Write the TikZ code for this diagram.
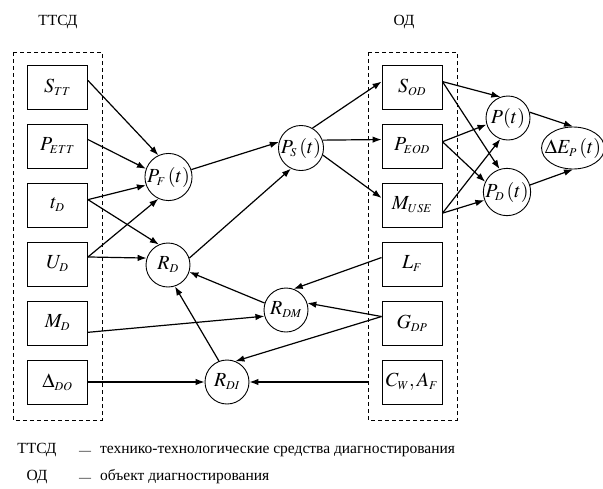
\documentclass[tikz,border=0pt]{standalone}
\usepackage{mathptmx}
\usepackage{fontspec}
\setmainfont{Liberation Serif}
\usetikzlibrary{arrows.meta,shapes.geometric}
\newcommand{\ix}[1]{_{\scriptscriptstyle #1}}

\begin{document}
\begin{tikzpicture}[x=1pt, y=-1pt,
    box/.style = {draw, rectangle, minimum width=60pt, minimum height=44pt, line width=0.9pt, font=\fontsize{20}{24}\selectfont},
    crc/.style = {draw, circle, minimum size=44pt, inner sep=0pt, line width=0.9pt, font=\fontsize{20}{24}\selectfont},
    frame/.style = {dashed, dash pattern=on 4pt off 3pt, line width=0.9pt},
    arr/.style = {-{Latex[length=9pt,width=6.5pt]}, line width=1.2pt},
    lbl/.style = {inner sep=0pt, font=\fontsize{15.5}{19}\selectfont}]
\useasboundingbox (0,0) rectangle (603,488);

\node[lbl, anchor=base] (ttsd) at (58,25) {ТТСД};
\node[lbl, anchor=base] (od) at (404,25) {ОД};

\draw[frame] (13,52) rectangle (102,420);
\draw[frame] (368,52) rectangle (457,420);

% ТТСД
\node[box] (stt) at (57.5,87.5) {$S\ix{TT}$};
\node[box] (pett) at (57.5,146) {$P\ix{ETT}$};
\node[box] (td) at (57.5,205) {$t\ix{D}$};
\node[box] (ud) at (57.5,264) {$U\ix{D}$};
\node[box] (md) at (57.5,323) {$M\ix{D}$};
\node[box] (ddo) at (57.5,382) {$\Delta\ix{DO}$};

% ОД
\node[box] (sod) at (412,87.5) {$S\ix{OD}$};
\node[box] (peod) at (412,146) {$P\ix{EOD}$};
\node[box] (muse) at (412,205) {$M\ix{USE}$};
\node[box] (lf) at (412,264) {$L\ix{F}$};
\node[box] (gdp) at (412,323) {$G\ix{DP}$};
\node[box] (cwaf) at (412,382) {$C\ix{W}, A\ix{F}$};

\node[crc] (pf) at (168.5,177) {$P\ix{F}\,(t)$};
\node[crc] (ps) at (301,148) {$P\ix{S}\,(t)$};
\node[crc] (rd) at (168,265) {$R\ix{D}$};
\node[crc] (rdm) at (286,310) {$R\ix{DM}$};
\node[crc] (rdi) at (227,382) {$R\ix{DI}$};
\node[crc] (pt) at (508,118) {$P(t)$};
\node[crc] (pd) at (507,192) {$P\ix{D}\,(t)$};
\node[draw, ellipse, minimum width=58pt, minimum height=42pt, inner xsep=-6pt, inner ysep=0pt, line width=0.9pt, font=\fontsize{20}{24}\selectfont] (dep) at (573,148) {$\Delta E\ix{P}\,(t)$};
\coordinate (cwin) at (368,382);

\draw[arr] (stt.13) -- (pf.115);
\draw[arr] (pett.12) -- (pf.160);
\draw[arr] (td.10) -- (pf.200);
\draw[arr] (td.10) -- (rd.114);
\draw[arr] (ud.13) -- (pf.245);
\draw[arr] (ud.13) -- (rd.162);
\draw[arr] (md.-17) -- (rdm.196);
\draw[arr] (ddo) -- (rdi);
\draw[arr] (pf.18) -- (ps.165);
\draw[arr] (rd.18) -- (ps.244);
\draw[arr] (rdm.162) -- (rd.-18);
\draw[arr] (rdi.111) -- (rd.-72);
\draw[arr] (ps.60) -- (sod.169);
\draw[arr] (ps.20) -- (peod.168);
\draw[arr] (ps.-18) -- (muse.167);
\draw[arr] (lf.168) -- (rdm.70);
\draw[arr] (gdp.168) -- (rdm.18);
\draw[arr] (gdp.168) -- (rdi.68);
\draw[arr] (cwin) -- (rdi);
\draw[arr] (sod.11) -- (pt.110);
\draw[arr] (sod.11) -- (pd.108);
\draw[arr] (peod.8) -- (pt.197);
\draw[arr] (peod.8) -- (pd.155);
\draw[arr] (muse.-15) -- (pt.250);
\draw[arr] (muse.-15) -- (pd.200);
\draw[arr] (pt.15) -- (dep.north);
\draw[arr] (pd.17) -- (dep.south);

% legend
\node[lbl, anchor=base] (lg1) at (37,453) {ТТСД};
\node[lbl, anchor=base, font=\fontsize{12}{14}\selectfont] (ds1) at (85,453) {\raisebox{-1.5pt}{—}};
\node[lbl, anchor=base west] (tx1) at (100,453) {технико-технологические средства диагностирования};
\node[lbl, anchor=base] (lg2) at (37,480) {ОД};
\node[lbl, anchor=base, font=\fontsize{12}{14}\selectfont] (ds2) at (85,480) {\raisebox{-1.5pt}{—}};
\node[lbl, anchor=base west] (tx2) at (100,480) {объект диагностирования};
\end{tikzpicture}
\end{document}
